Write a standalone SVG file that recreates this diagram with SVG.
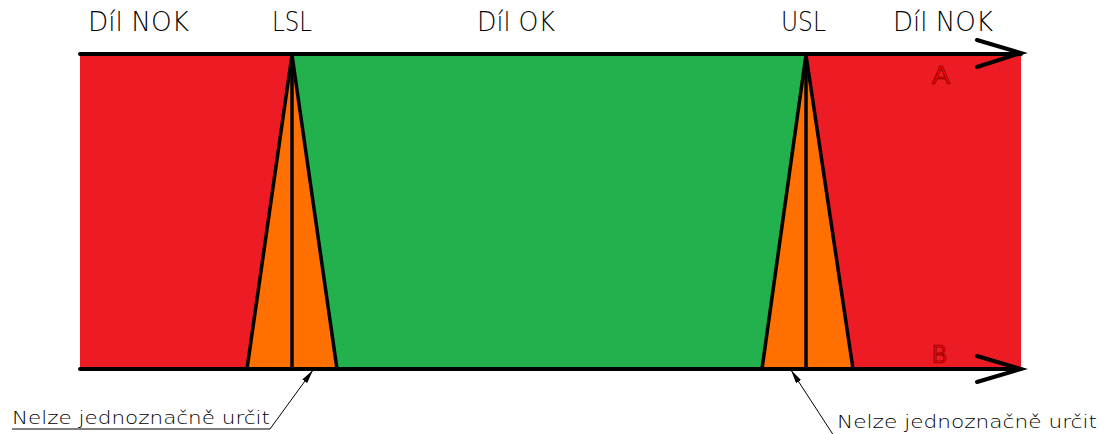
<svg xmlns="http://www.w3.org/2000/svg" width="1105" height="434" viewBox="0 0 1105 434">
<style>
.lbl{font-family:"DejaVu Sans","Liberation Sans",Arial,sans-serif;font-weight:200;font-size:26px;fill:#000;}
.note{font-family:"DejaVu Sans","Liberation Sans",Arial,sans-serif;font-weight:200;font-size:18px;fill:#000;}
.ab{font-family:"Liberation Sans",Arial,sans-serif;font-size:26px;fill:#ff0000;stroke:#5a0000;stroke-width:0.6;}
.edge{stroke:#000;stroke-width:3.5;fill:none;stroke-linejoin:round;}
.axis{stroke:#000;stroke-width:4;fill:none;stroke-linecap:round;}
.leader{stroke:#000;stroke-width:1;fill:none;}
</style>
<defs>
<marker id="ah" viewBox="0 0 14 6" refX="14" refY="3" markerWidth="14" markerHeight="6" markerUnits="userSpaceOnUse" orient="auto">
<path d="M0,0 L14,3 L0,6 Z" fill="#000"/>
</marker>
</defs>
<g id="zones">
<polygon id="red-left" points="80,55 292,55 247,369 80,369" fill="#ed1c24"/>
<polygon id="green" points="292,55 806,55 762,369 337,369" fill="#22b14c"/>
<polygon id="red-right" points="806,55 1021,55 1021,369 853,369" fill="#ed1c24"/>
</g>
<g id="lsl">
<polygon points="292,55 247,369 337,369" fill="#ff7000"/>
<polyline class="edge" points="247,369 292,55 337,369"/>
<line class="edge" x1="292" y1="55" x2="292" y2="369"/>
</g>
<g id="usl">
<polygon points="806,55 762,369 853,369" fill="#ff7000"/>
<polyline class="edge" points="762,369 806,55 853,369"/>
<line class="edge" x1="806" y1="55" x2="806" y2="369"/>
</g>
<g id="axis-a">
<line class="axis" x1="80" y1="54" x2="1021" y2="54"/>
<polyline class="axis" points="977,40 1021,53 977,67"/>
</g>
<g id="axis-b">
<line class="axis" x1="80" y1="369" x2="1021" y2="369"/>
<polyline class="axis" points="977,356 1021,369 977,382"/>
</g>
<g id="connectors">
<polyline class="leader" points="12,429 270,429 313,370" marker-end="url(#ah)"/>
<line class="leader" x1="834" y1="436" x2="791" y2="370" marker-end="url(#ah)"/>
</g>
<g id="labels">
<text class="lbl" x="88" y="31" textLength="101" lengthAdjust="spacingAndGlyphs">Díl NOK</text>
<text class="lbl" x="272" y="31" textLength="40" lengthAdjust="spacingAndGlyphs">LSL</text>
<text class="lbl" x="477" y="31" textLength="78" lengthAdjust="spacingAndGlyphs">Díl OK</text>
<text class="lbl" x="781" y="31" textLength="45" lengthAdjust="spacingAndGlyphs">USL</text>
<text class="lbl" x="893" y="31" textLength="100" lengthAdjust="spacingAndGlyphs">Díl NOK</text>
<text class="ab" x="932" y="84" textLength="18" lengthAdjust="spacingAndGlyphs">A</text>
<text class="ab" x="932" y="363" textLength="15" lengthAdjust="spacingAndGlyphs">B</text>
<text class="note" x="12" y="424" textLength="258" lengthAdjust="spacingAndGlyphs">Nelze jednoznačně určit</text>
<text class="note" x="837" y="428" textLength="260" lengthAdjust="spacingAndGlyphs">Nelze jednoznačně určit</text>
</g>
</svg>
